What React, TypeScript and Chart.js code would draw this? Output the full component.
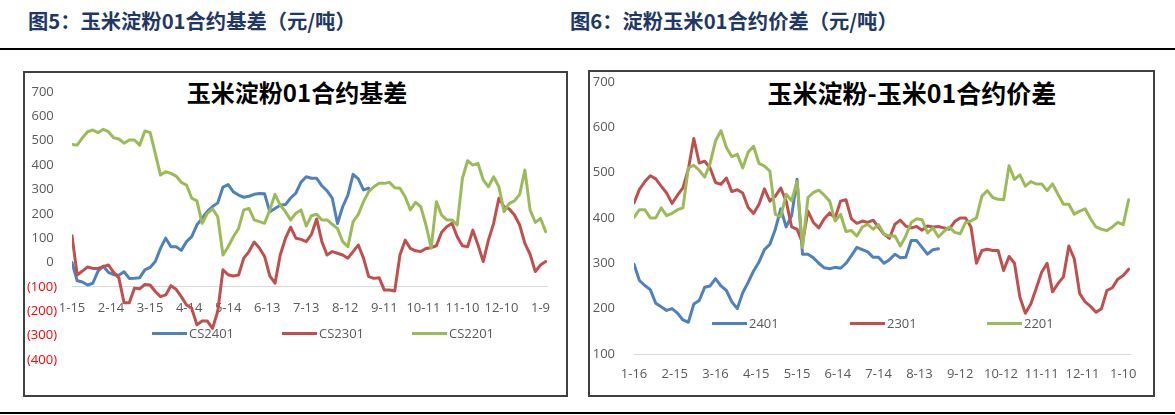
import React, { useEffect, useRef } from 'react';
import { Chart, registerables } from 'chart.js';

Chart.register(...registerables);

// ---------- data ----------
const DAY_STEP = 4; // one sample every 4 calendar days

const leftXLabels = ['1-15', '2-14', '3-15', '4-14', '5-14', '6-13', '7-13', '8-12', '9-11', '10-11', '11-10', '12-10', '1-9'];
const rightXLabels = ['1-16', '2-15', '3-16', '4-15', '5-15', '6-14', '7-14', '8-13', '9-12', '10-12', '11-11', '12-11', '1-10'];

const leftYTicks = [700, 600, 500, 400, 300, 200, 100, 0, -100, -200, -300, -400];
const rightYTicks = [700, 600, 500, 400, 300, 200, 100];

// 图5 basis series
const cs2401 = [0, -75, -80, -92, -85, -35, -15, -40, -50, -52, -38, -65, -64, -62, -30, -20, 4, 58, 100, 65,
  65, 50, 86, 106, 155, 181, 210, 230, 245, 310, 320, 290, 277, 268, 272, 280, 283, 282, 208, 222,
  235, 238, 265, 285, 330, 352, 346, 346, 315, 294, 264, 160, 229, 277, 362, 343, 298, 305];
const cs2301 = [110, -51, -35, -18, -24, -24, -17, -10, -40, -63, -165, -165, -105, -108, -90, -92, -119, -140, -133, -95,
  -110, -140, -174, -188, -256, -240, -240, -270, -200, -30, -50, -55, -51, 18, 45, 84, 60, 25, -55, -85,
  31, 99, 145, 100, 95, 86, 116, 179, 86, 31, 45, 38, 31, 18, 45, 72, 18, -58, -65, -62,
  -113, -113, -117, 31, 92, 58, 48, 45, 58, 61, 69, 124, 147, 161, 106, 69, 65, 133, 72, 4,
  92, 161, 264, 229, 220, 195, 154, 79, 34, -37, -10, 4];
const cs2201 = [485, 482, 512, 537, 544, 533, 547, 537, 512, 507, 490, 503, 503, 482, 540, 534, 448, 359, 373, 366,
  355, 329, 318, 264, 253, 161, 202, 220, 188, 31, 65, 106, 140, 216, 222, 175, 168, 161, 216, 280,
  236, 209, 175, 202, 216, 150, 192, 198, 175, 175, 157, 140, 86, 65, 168, 198, 250, 291, 311, 325,
  325, 329, 307, 305, 270, 216, 247, 229, 154, 60, 250, 195, 175, 175, 154, 346, 418, 400, 407, 339,
  311, 352, 311, 209, 243, 253, 280, 380, 216, 165, 181, 127];

// 图6 spread series
const sp2401 = [298, 262, 251, 242, 212, 204, 196, 200, 190, 175, 170, 210, 218, 247, 250, 266, 250, 240, 215, 200,
  235, 258, 283, 303, 330, 342, 375, 420, 380, 405, 485, 320, 320, 312, 300, 290, 288, 291, 289, 300,
  317, 335, 330, 325, 313, 313, 300, 308, 320, 312, 313, 350, 350, 335, 320, 330, 332];
const sp2301 = [433, 463, 480, 493, 486, 470, 455, 432, 450, 466, 508, 575, 521, 525, 510, 478, 474, 488, 458, 462,
  455, 423, 410, 430, 464, 437, 448, 466, 437, 380, 375, 345, 415, 390, 378, 398, 411, 400, 437, 440,
  398, 388, 393, 390, 395, 379, 364, 355, 386, 395, 382, 378, 381, 373, 382, 380, 381, 378, 375, 392,
  400, 400, 380, 300, 328, 331, 328, 328, 284, 315, 300, 225, 190, 210, 245, 280, 300, 237, 255, 270,
  338, 310, 233, 215, 205, 192, 200, 240, 246, 265, 273, 287];
const sp2201 = [401, 418, 418, 400, 400, 422, 405, 410, 418, 422, 510, 516, 505, 490, 520, 570, 592, 555, 535, 540,
  510, 545, 558, 520, 514, 503, 408, 403, 452, 438, 480, 335, 445, 456, 461, 450, 437, 393, 408, 370,
  372, 360, 380, 386, 375, 385, 364, 360, 360, 338, 360, 390, 398, 396, 367, 378, 358, 370, 380, 368,
  365, 390, 393, 400, 448, 460, 445, 441, 440, 515, 485, 495, 470, 480, 475, 475, 460, 475, 452, 430,
  430, 408, 415, 420, 398, 380, 375, 372, 380, 390, 385, 440];

const BLUE = '#4F81BD';
const RED = '#C0504D';
const GREEN = '#9BBB59';
const TICK_GREY = '#595959';
const FONT = "'Open Sans', 'Liberation Sans', sans-serif";
const CJK = "'Noto Sans CJK SC', 'Noto Sans', sans-serif";

const toPoints = (vals: number[]) => vals.map((y, i) => ({ x: i * DAY_STEP, y }));

function line(label: string, vals: number[], color: string, order: number) {
  return {
    label,
    data: toPoints(vals),
    borderColor: color,
    backgroundColor: color,
    borderWidth: 3,
    pointRadius: 0,
    tension: 0,
    fill: false,
    order,
    borderJoinStyle: 'round' as const,
    borderCapStyle: 'round' as const,
  };
}

function leftConfig(): any {
  return {
    type: 'line',
    data: {
      datasets: [
        line('CS2401', cs2401, BLUE, 3),
        line('CS2301', cs2301, RED, 2),
        line('CS2201', cs2201, GREEN, 1),
      ],
    },
    options: {
      animation: false,
      responsive: false,
      events: [],
      layout: { padding: { top: 29, right: 28, bottom: 43, left: 0 } },
      plugins: { legend: { display: false }, title: { display: false }, tooltip: { enabled: false } },
      scales: {
        x: {
          type: 'linear',
          min: 0,
          max: 365,
          position: { y: -100 },
          grid: { display: false },
          border: { display: true, color: '#D9D9D9', width: 1 },
          ticks: {
            stepSize: 30,
            maxTicksLimit: 20,
            includeBounds: false,
            autoSkip: false,
            maxRotation: 0,
            padding: 6,
            color: TICK_GREY,
            font: { family: FONT, size: 13 },
            callback: (v: number) => leftXLabels[Math.round(v / 30)] ?? '',
          },
        },
        y: {
          min: leftYTicks[leftYTicks.length - 1],
          max: leftYTicks[0],
          grid: { display: false },
          border: { display: false },
          afterFit: (s: any) => { s.width = 57; },
          ticks: {
            stepSize: 100,
            padding: 7,
            font: { family: FONT, size: 13 },
            color: (ctx: any) => (ctx.tick && ctx.tick.value < 0 ? '#FF0000' : TICK_GREY),
            callback: (v: number) => (v < 0 ? `(${-v})` : `${v}\u2005`),
          },
        },
      },
    },
  };
}

function rightConfig(): any {
  return {
    type: 'line',
    data: {
      datasets: [
        line('2401', sp2401, BLUE, 3),
        line('2301', sp2301, RED, 2),
        line('2201', sp2201, GREEN, 1),
      ],
    },
    options: {
      animation: false,
      responsive: false,
      events: [],
      layout: { padding: { top: 17, right: 30, bottom: 0, left: 0 } },
      plugins: { legend: { display: false }, title: { display: false }, tooltip: { enabled: false } },
      scales: {
        x: {
          type: 'linear',
          min: 0,
          max: 365,
          position: 'bottom',
          grid: { display: false },
          border: { display: true, color: '#D9D9D9', width: 1 },
          afterFit: (s: any) => { s.height = 49; },
          ticks: {
            stepSize: 30,
            maxTicksLimit: 20,
            includeBounds: false,
            autoSkip: false,
            maxRotation: 0,
            padding: 4,
            color: TICK_GREY,
            font: { family: FONT, size: 13 },
            callback: (v: number) => rightXLabels[Math.round(v / 30)] ?? '',
          },
        },
        y: {
          min: rightYTicks[rightYTicks.length - 1],
          max: rightYTicks[0],
          grid: { display: false },
          border: { display: false },
          afterFit: (s: any) => { s.width = 54; },
          ticks: {
            stepSize: 100,
            padding: 11,
            color: TICK_GREY,
            font: { family: FONT, size: 13 },
          },
        },
      },
    },
  };
}

function ChartCanvas({ make, left, top, width, height }: { make: () => any; left: number; top: number; width: number; height: number }) {
  const ref = useRef<HTMLCanvasElement>(null);
  useEffect(() => {
    const chart = new Chart(ref.current as HTMLCanvasElement, make());
    return () => chart.destroy();
  }, []);
  return (
    <canvas
      ref={ref}
      width={width}
      height={height}
      style={{ position: 'absolute', left, top, width, height }}
    />
  );
}

function LegendItem({ x, y, color, text }: { x: number; y: number; color: string; text: string }) {
  return (
    <>
      <div style={{ position: 'absolute', left: x, top: y - 1.5, width: 35, height: 3, background: color }} />
      <div
        style={{
          position: 'absolute', left: x + 37, top: y - 9, height: 18, lineHeight: '18px',
          fontFamily: FONT, fontSize: 13, color: TICK_GREY, whiteSpace: 'nowrap',
        }}
      >
        {text}
      </div>
    </>
  );
}

const headerStyle: React.CSSProperties = {
  position: 'absolute', top: 10, lineHeight: '21px', fontFamily: CJK, fontWeight: 700,
  fontSize: 20.3, color: '#1F3864', whiteSpace: 'nowrap',
};

export default function App() {
  return (
    <div style={{ position: 'absolute', left: 0, top: 0, width: 1175, height: 415, background: '#fff', overflow: 'hidden' }}>
      <div style={{ ...headerStyle, left: 28 }}>图5：玉米淀粉01合约基差（元/吨）</div>
      <div style={{ ...headerStyle, left: 570 }}>图6：淀粉玉米01合约价差（元/吨）</div>
      <div style={{ position: 'absolute', left: 0, top: 48, width: 1175, height: 2, background: '#000' }} />
      <div style={{ position: 'absolute', left: 0, top: 412, width: 1175, height: 2, background: '#000' }} />

      <div style={{ position: 'absolute', left: 23, top: 71, width: 545, height: 326, border: '2px solid #404040', boxSizing: 'border-box' }} />
      <div style={{ position: 'absolute', left: 588, top: 70, width: 567, height: 327, border: '2px solid #404040', boxSizing: 'border-box' }} />

      <div
        style={{
          position: 'absolute', left: 297, top: 78, transform: 'translateX(-50%)', lineHeight: '28px',
          fontFamily: CJK, fontWeight: 700, fontSize: 24, color: '#000', whiteSpace: 'nowrap',
        }}
      >
        玉米淀粉01合约基差
      </div>
      <div
        style={{
          position: 'absolute', left: 912, top: 77, transform: 'translateX(-50%)', lineHeight: '30px',
          fontFamily: CJK, fontWeight: 700, fontSize: 25, color: '#000', whiteSpace: 'nowrap',
        }}
      >
        玉米淀粉-玉米01合约价差
      </div>

      <ChartCanvas make={leftConfig} left={15} top={63} width={560} height={340} />
      <ChartCanvas make={rightConfig} left={580} top={63} width={580} height={340} />

      <LegendItem x={152} y={333} color={BLUE} text="CS2401" />
      <LegendItem x={282} y={333} color={RED} text="CS2301" />
      <LegendItem x={412} y={333} color={GREEN} text="CS2201" />

      <LegendItem x={712} y={323} color={BLUE} text="2401" />
      <LegendItem x={850} y={323} color={RED} text="2301" />
      <LegendItem x={987} y={323} color={GREEN} text="2201" />
    </div>
  );
}
